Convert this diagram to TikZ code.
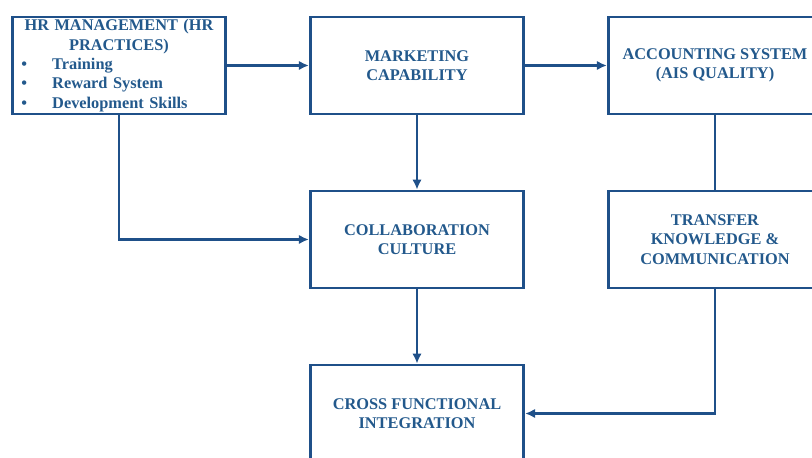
\documentclass[tikz,border=0pt]{standalone}
\usepackage{fontspec}
\setmainfont{Liberation Serif}
\usepackage{tikz}
\usetikzlibrary{arrows.meta}
\usepackage{xcolor}
\definecolor{boxblue}{HTML}{1F5089}
\definecolor{textblue}{HTML}{23598C}

\begin{document}
\begin{tikzpicture}[thick]
    \useasboundingbox (0, 0) rectangle (16.24, 9.16);

    % Define styles for boxes and arrows
    \tikzstyle{process} = [rectangle, minimum width=4.27cm, minimum height=1.94cm, text centered, align=center, draw=boxblue, line width=1.6pt, text=textblue, font=\fontsize{9.3}{11}\selectfont\bfseries, inner sep=0pt]
    \tikzstyle{arrow} = [draw=boxblue, line width=1.3pt, -{Latex[length=2mm, width=1.9mm]}]
    \tikzstyle{line} = [draw=boxblue, line width=1.3pt, -]

    % boxes
    \node (hrm) [process, text width=4.1cm, align=left] at (2.38, 7.85) {%
        {\centering HR MANAGEMENT (HR\\ PRACTICES)\par}
        \hspace*{0.1cm}\textbullet\hspace{0.5cm}Training\\
        \hspace*{0.1cm}\textbullet\hspace{0.5cm}Reward System\\
        \hspace*{0.1cm}\textbullet\hspace{0.5cm}Development Skills};
    \node (marketing) [process] at (8.34, 7.85) {MARKETING\\ CAPABILITY};
    \node (accounting) [process] at (14.30, 7.85) {ACCOUNTING SYSTEM\\ (AIS QUALITY)};
    \node (collab) [process] at (8.34, 4.37) {COLLABORATION\\ CULTURE};
    \node (transfer) [process] at (14.30, 4.37) {TRANSFER\\ KNOWLEDGE \&\\ COMMUNICATION};
    \node (crossfunc) [process] at (8.34, 0.89) {CROSS FUNCTIONAL\\ INTEGRATION};

    % Arrows
    \draw [arrow] (hrm) -- (marketing);
    \draw [arrow] (marketing) -- (accounting);
    \draw [arrow] (marketing) -- (collab);
    \draw [arrow] (hrm) |- (collab);
    \draw [line] (accounting) -- (transfer);
    \draw [arrow] (collab) -- (crossfunc);
    \draw [arrow] (transfer) |- (crossfunc);
\end{tikzpicture}
\end{document}
